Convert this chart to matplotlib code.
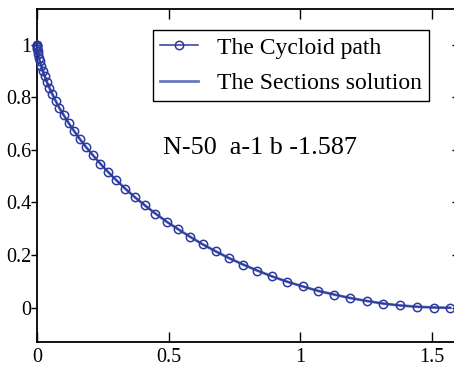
import matplotlib
matplotlib.use('Agg')
from matplotlib import pyplot as plt

# Points (cycloid with N-50 markers)
cycloid_x = [0.000, 0.000, 0.000, 0.001, 0.001, 0.003, 0.005, 0.007, 0.011, 0.016,
             0.022, 0.029, 0.037, 0.047, 0.058, 0.071, 0.085, 0.102, 0.120, 0.140,
             0.162, 0.186, 0.212, 0.240, 0.270, 0.302, 0.336, 0.372, 0.410, 0.450,
             0.493, 0.537, 0.583, 0.630, 0.680, 0.731, 0.784, 0.838, 0.894, 0.951,
             1.010, 1.069, 1.130, 1.191, 1.253, 1.316, 1.379, 1.443, 1.507, 1.571]
cycloid_y = [1.000, 0.999, 0.996, 0.991, 0.984, 0.975, 0.964, 0.950, 0.936, 0.919,
             0.901, 0.881, 0.859, 0.836, 0.812, 0.786, 0.759, 0.731, 0.702, 0.673,
             0.642, 0.611, 0.580, 0.548, 0.516, 0.484, 0.452, 0.420, 0.389, 0.358,
             0.327, 0.298, 0.269, 0.241, 0.214, 0.188, 0.164, 0.141, 0.119, 0.099,
             0.081, 0.064, 0.050, 0.037, 0.026, 0.016, 0.009, 0.004, 0.001, 0.000]
# the sections solution lies on top of the cycloid
sections_x = cycloid_x
sections_y = cycloid_y

x_ticks = [0, 0.5, 1, 1.5]
x_tick_labels = ['0', '0.5', '1', '1.5']
y_ticks = [0, 0.2, 0.4, 0.6, 0.8, 1]
y_tick_labels = ['0', '0.2', '0.4', '0.6', '0.8', '1']

label_text = 'N-50  a-1 b -1.587'

color_cycloid = '#2b3a9c'
color_sections = '#6a78c0'

plt.rcParams['font.family'] = ['Liberation Serif', 'DejaVu Serif']
plt.rcParams['axes.linewidth'] = 1.3

fig = plt.figure(figsize=(4.54, 3.66), dpi=100)
ax = fig.add_axes([37 / 454, 24 / 366, 421 / 454, 333 / 366])

ax.plot(sections_x, sections_y, '-', color=color_sections, linewidth=2,
        label='The Sections solution', zorder=2)
ax.plot(cycloid_x, cycloid_y, '-o', color=color_cycloid, linewidth=1.1,
        markersize=6, markerfacecolor='none', markeredgewidth=1.1,
        label='The Cycloid path', zorder=3, clip_on=False)

ax.set_xlim(0, 1.6)
ax.set_ylim(-0.13, 1.135)
ax.set_xticks(x_ticks, x_tick_labels)
ax.set_yticks(y_ticks, y_tick_labels)
ax.tick_params(axis='x', direction='in', top=True, length=7, width=1,
               labelsize=14.5, pad=4.5)
ax.tick_params(axis='y', direction='out', length=4, width=1, labelsize=14.5, pad=0)

ax_r = ax.secondary_yaxis('right')
ax_r.set_yticks(y_ticks)
ax_r.tick_params(direction='in', length=4, width=1, labelright=False)

ax.text(0.479, 0.607, label_text, fontsize=18.8, va='center', ha='left')

handles, labels = ax.get_legend_handles_labels()
leg = ax.legend(handles[::-1], labels[::-1], loc='upper left',
                bbox_to_anchor=(153 / 454, 1 - 30 / 366), bbox_transform=fig.transFigure,
                borderaxespad=0, fontsize=17, fancybox=False, framealpha=1,
                edgecolor='black', handlelength=1.6, handletextpad=0.8,
                borderpad=0.3, labelspacing=0.6)
leg.get_frame().set_linewidth(1.0)
for h in leg.legend_handles:
    h.set_markersize(6)

fig.savefig('out.png', dpi=100)
